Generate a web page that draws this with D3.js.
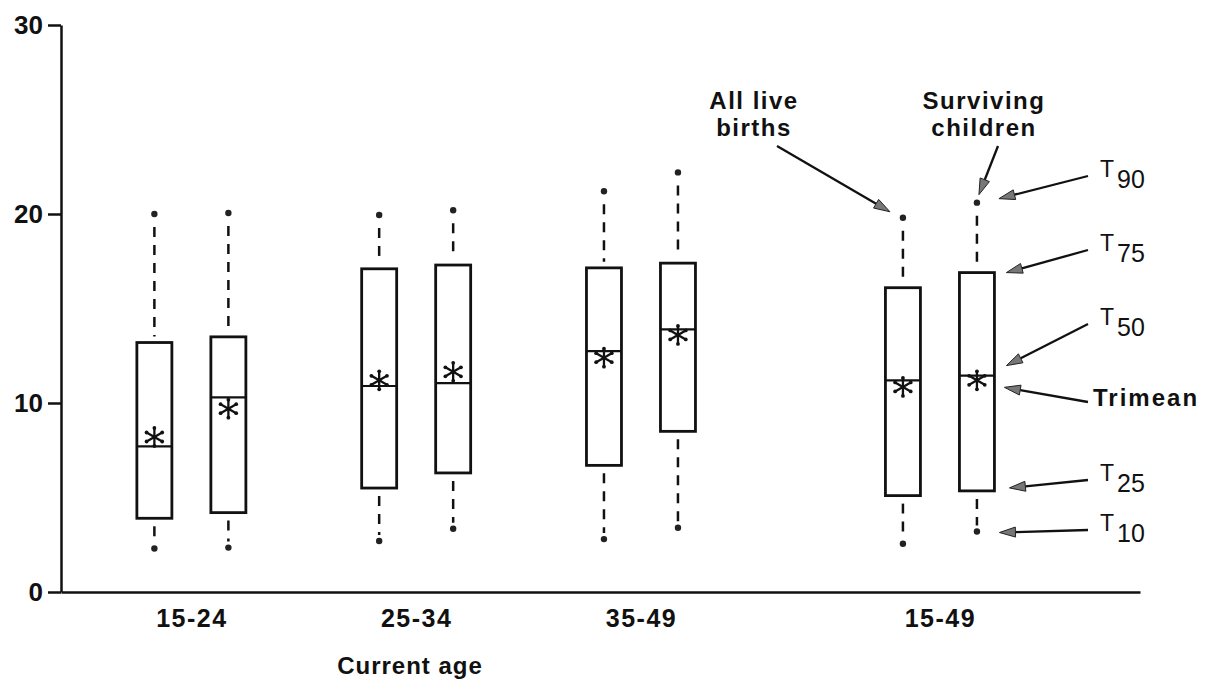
<!DOCTYPE html>
<html>
<head>
<meta charset="utf-8">
<script src="https://cdn.jsdelivr.net/npm/d3@7"></script>
<style>
  body { margin: 0; background: #fff; }
  svg { display: block; }
  text { font-family: "Liberation Sans", Arial, Helvetica, sans-serif; fill: #111; }
</style>
</head>
<body>
<svg id="chart" width="1213" height="679"></svg>
<script>
// Age groups of the mothers (the last one is all ages combined)
const categories = ["15-24", "25-34", "35-49", "15-49"];
const seriesNames = ["All live births", "Surviving children"];
const yTicks = [0, 10, 20, 30];

// All live births: percentiles and trimean
const birthsT10 = [2.3, 2.7, 2.8, 2.55];
const birthsT25 = [3.9, 5.5, 6.7, 5.1];
const birthsT50 = [7.7, 10.9, 12.75, 11.2];
const birthsT75 = [13.2, 17.1, 17.15, 16.1];
const birthsT90 = [20.0, 19.95, 21.2, 19.8];
const birthsTrimean = [8.2, 11.2, 12.4, 10.85];

// Surviving children: percentiles and trimean
const survT10 = [2.35, 3.35, 3.4, 3.2];
const survT25 = [4.2, 6.3, 8.5, 5.35];
const survT50 = [10.3, 11.05, 13.9, 11.45];
const survT75 = [13.5, 17.3, 17.4, 16.9];
const survT90 = [20.05, 20.2, 22.2, 20.6];
const survTrimean = [9.7, 11.65, 13.6, 11.2];

const svg = d3.select("#chart");

const y = d3.scaleLinear().domain([0, 30]).range([592, 25]);
// group slots; the combined 15-49 group stands apart from the age groups
const slots = categories.map((c, i) => (i < 3 ? i : i + 0.33));
const x = d3.scaleLinear().domain([-0.58, 4.22]).range([61, 1140]);

const boxOffset = 37, boxW = 35;

// ---- axes ----
const yAxis = d3.axisLeft(y).tickValues(yTicks).tickSize(13).tickSizeOuter(0).tickPadding(5);
const gy = svg.append("g").attr("transform", `translate(${x(-0.58)},0)`).call(yAxis);
gy.select(".domain").attr("stroke", "#111").attr("stroke-width", 2.5);
gy.selectAll(".tick line").attr("stroke", "#111").attr("stroke-width", 2.5);
gy.selectAll(".tick text")
  .style("font-size", "26px").style("font-weight", "bold")
  .attr("fill", "#111");

const xAxis = d3.axisBottom(x)
  .tickValues(slots)
  .tickFormat((d, i) => categories[i])
  .tickSize(0).tickSizeOuter(0).tickPadding(17);
const gx = svg.append("g").attr("transform", `translate(0,${y(0)})`).call(xAxis);
gx.select(".domain").attr("stroke", "#111").attr("stroke-width", 2.5);
gx.selectAll(".tick text")
  .style("font-size", "25px").style("font-weight", "bold")
  .style("letter-spacing", "1.5px")
  .attr("fill", "#111");

svg.append("text")
  .attr("x", 410).attr("y", 674)
  .attr("text-anchor", "middle")
  .style("font-size", "24px").style("font-weight", "bold").style("letter-spacing", "1px")
  .text("Current age");

// ---- boxes ----
const boxes = categories.flatMap((c, i) => [
  { group: i, cx: x(slots[i]) - boxOffset, t10: birthsT10[i], t25: birthsT25[i], t50: birthsT50[i],
    t75: birthsT75[i], t90: birthsT90[i], tri: birthsTrimean[i] },
  { group: i, cx: x(slots[i]) + boxOffset, t10: survT10[i], t25: survT25[i], t50: survT50[i],
    t75: survT75[i], t90: survT90[i], tri: survTrimean[i] }
]);

const gb = svg.append("g").selectAll("g").data(boxes).join("g");

// dashed whiskers
gb.append("line")
  .attr("x1", d => d.cx).attr("x2", d => d.cx)
  .attr("y1", d => y(d.t90) + 13).attr("y2", d => y(d.t75) - 6)
  .attr("stroke", "#111").attr("stroke-width", 2.5).attr("stroke-dasharray", "10,8");
gb.append("line")
  .attr("x1", d => d.cx).attr("x2", d => d.cx)
  .attr("y1", d => y(d.t25) + 8).attr("y2", d => y(d.t10) - 6)
  .attr("stroke", "#111").attr("stroke-width", 2.5).attr("stroke-dasharray", "10,8");

// T90 and T10 dots
["t90", "t10"].forEach(k => {
  gb.append("circle")
    .attr("cx", d => d.cx).attr("cy", d => y(d[k])).attr("r", 3.2)
    .attr("fill", "#222");
});

// box from T25 to T75
gb.append("rect")
  .attr("x", d => d.cx - boxW / 2).attr("width", boxW)
  .attr("y", d => y(d.t75)).attr("height", d => y(d.t25) - y(d.t75))
  .attr("fill", "none").attr("stroke", "#111").attr("stroke-width", 2.8);

// median
gb.append("line")
  .attr("x1", d => d.cx - boxW / 2).attr("x2", d => d.cx + boxW / 2)
  .attr("y1", d => y(d.t50)).attr("y2", d => y(d.t50))
  .attr("stroke", "#111").attr("stroke-width", 2.2);

// trimean asterisk: six arms with small knobs at the ends
const armLen = 9;
const armAngles = d3.range(6).map(k => (Math.PI / 3) * k + Math.PI / 2);
gb.each(function(d) {
  const g = d3.select(this).append("g").attr("transform", `translate(${d.cx},${y(d.tri)})`);
  armAngles.forEach(a => {
    const ex = Math.cos(a) * armLen, ey = Math.sin(a) * armLen;
    g.append("line").attr("x1", 0).attr("y1", 0).attr("x2", ex).attr("y2", ey)
      .attr("stroke", "#111").attr("stroke-width", 2.3);
    g.append("circle").attr("cx", ex).attr("cy", ey).attr("r", 1.9).attr("fill", "#111");
  });
  g.append("circle").attr("r", 2).attr("fill", "#111");
});

// ---- annotations ----
function arrow(x1, y1, x2, y2) {
  const ang = Math.atan2(y2 - y1, x2 - x1);
  const L = 16, W = 5;
  const bx = x2 - Math.cos(ang) * L, by = y2 - Math.sin(ang) * L;
  svg.append("line")
    .attr("x1", x1).attr("y1", y1).attr("x2", bx).attr("y2", by)
    .attr("stroke", "#111").attr("stroke-width", 2.3);
  const px = -Math.sin(ang) * W, py = Math.cos(ang) * W;
  svg.append("path")
    .attr("d", `M${x2},${y2}L${bx + px},${by + py}L${bx - px},${by - py}Z`)
    .attr("fill", "#777").attr("stroke", "#222").attr("stroke-width", 1);
}

const last = boxes.filter(b => b.group === 3);
const birthsBox = last[0], survBox = last[1];

// two-line captions, one text element per line
function label2(lines, cx, yTop) {
  lines.forEach((s, i) => {
    svg.append("text").attr("text-anchor", "middle")
      .attr("x", cx).attr("y", yTop + i * 27)
      .style("font-size", "24px").style("font-weight", "bold").style("letter-spacing", "1.5px")
      .text(s);
  });
}
label2(["All live", "births"], 754, 109);
label2(["Surviving", "children"], 984, 109);

arrow(777, 146, birthsBox.cx - 13, y(birthsBox.t90) - 6);
arrow(998, 146, survBox.cx + 2, y(survBox.t90) - 8);

// percentile keys on the right
const rightX = survBox.cx + boxW / 2;
const keys = [
  { main: "T", sub: "90", ty: 177, tip: [survBox.cx + 22, y(survBox.t90) - 4] },
  { main: "T", sub: "75", ty: 251, tip: [rightX + 12, y(survBox.t75)] },
  { main: "T", sub: "50", ty: 325, tip: [rightX + 12, y(survBox.t50) - 10] },
  { main: "Trimean", sub: null, ty: 406, tip: [rightX + 10, y(survBox.tri) + 7] },
  { main: "T", sub: "25", ty: 481, tip: [rightX + 15, y(survBox.t25) - 3] },
  { main: "T", sub: "10", ty: 531, tip: [rightX + 5, y(survBox.t10) + 1] }
];
keys.forEach(k => {
  const t = svg.append("text")
    .attr("x", k.sub ? 1100 : 1093).attr("y", k.ty)
    .style("font-size", k.sub ? "23px" : "24px").style("font-weight", k.sub ? "normal" : "bold")
    .style("letter-spacing", k.sub ? "0px" : "2px")
    .text(k.main);
  if (k.sub) {
    t.append("tspan").attr("dx", 3).attr("dy", 11).style("font-size", "25px").text(k.sub);
  }
  arrow(1088, k.sub ? k.ty - 1 : k.ty - 4, k.tip[0], k.tip[1]);
});
</script>
</body>
</html>
